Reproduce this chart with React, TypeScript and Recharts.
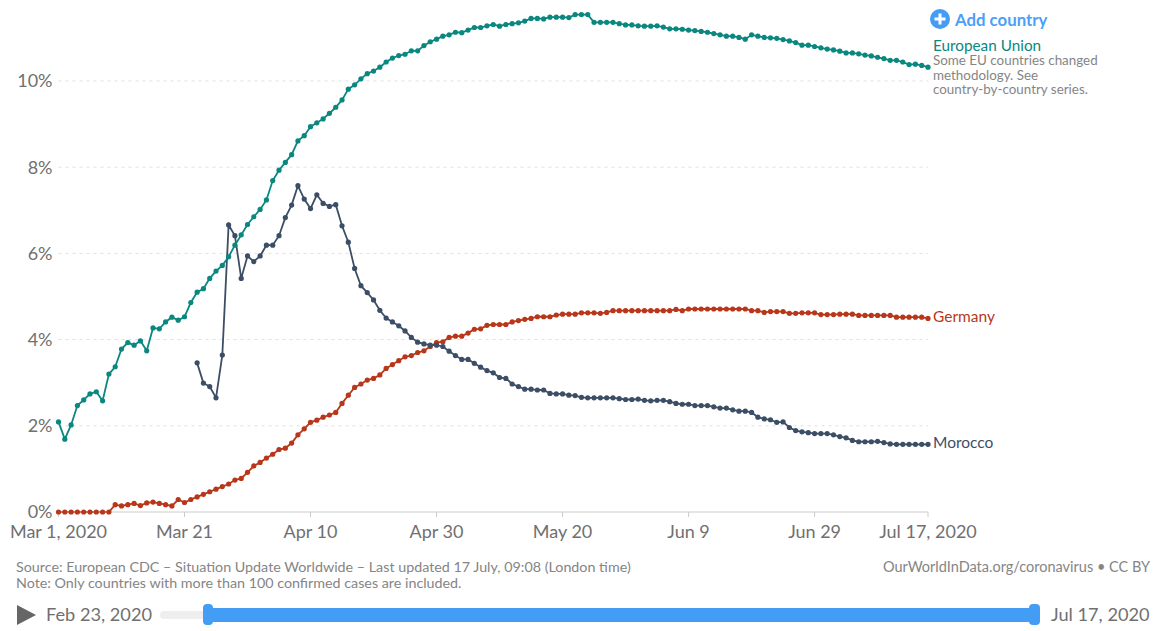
import { CartesianGrid, Line, LineChart, XAxis, YAxis } from "recharts";

const FONT = "Lato, sans-serif";
const GREY = "#707070";
const BLUE = "#449df5";
const TEAL = "#0a877f";
const RED = "#b8371a";
const SLATE = "#3c4e66";

const euValues = [
  2.09, 1.69, 2.02, 2.47, 2.6, 2.74, 2.79, 2.58, 3.2, 3.37, 3.78, 3.93, 3.87, 3.97, 3.74, 4.27, 4.25, 4.41, 4.52, 4.45,
  4.53, 4.86, 5.1, 5.18, 5.42, 5.59, 5.72, 5.92, 6.19, 6.43, 6.67, 6.85, 7.02, 7.24, 7.69, 7.93, 8.11, 8.29, 8.61, 8.73,
  8.94, 9.03, 9.12, 9.25, 9.39, 9.56, 9.81, 9.91, 10.05, 10.17, 10.23, 10.32, 10.44, 10.53, 10.59, 10.62, 10.7, 10.7, 10.82, 10.91,
  10.97, 11.04, 11.07, 11.13, 11.12, 11.18, 11.24, 11.24, 11.28, 11.31, 11.27, 11.31, 11.33, 11.35, 11.39, 11.45, 11.45, 11.44, 11.48, 11.48,
  11.48, 11.47, 11.54, 11.54, 11.54, 11.36, 11.36, 11.36, 11.36, 11.33, 11.3, 11.3, 11.28, 11.27, 11.27, 11.28, 11.25, 11.21, 11.21, 11.2,
  11.18, 11.17, 11.15, 11.13, 11.1, 11.07, 11.04, 11.04, 11.01, 10.97, 11.07, 11.04, 11.01, 11.0, 10.99, 10.96, 10.93, 10.89, 10.83, 10.83,
  10.8, 10.77, 10.74, 10.72, 10.69, 10.65, 10.65, 10.63, 10.6, 10.58, 10.55, 10.52, 10.48, 10.48, 10.44, 10.38, 10.39, 10.36, 10.32,
];

const germanyValues = [
  0, 0, 0, 0, 0, 0, 0, 0, 0, 0.17, 0.14, 0.17, 0.2, 0.15, 0.21, 0.23, 0.2, 0.17, 0.14, 0.29,
  0.22, 0.29, 0.35, 0.41, 0.47, 0.53, 0.59, 0.65, 0.74, 0.78, 0.92, 1.07, 1.15, 1.25, 1.34, 1.45, 1.48, 1.6, 1.79, 1.93,
  2.08, 2.13, 2.2, 2.25, 2.31, 2.52, 2.71, 2.89, 2.97, 3.06, 3.1, 3.18, 3.33, 3.42, 3.51, 3.6, 3.63, 3.7, 3.74, 3.84,
  3.93, 3.95, 4.05, 4.08, 4.08, 4.15, 4.24, 4.25, 4.33, 4.35, 4.35, 4.35, 4.41, 4.44, 4.47, 4.49, 4.53, 4.53, 4.53, 4.57,
  4.59, 4.59, 4.59, 4.62, 4.62, 4.62, 4.61, 4.63, 4.67, 4.67, 4.67, 4.67, 4.67, 4.67, 4.67, 4.67, 4.67, 4.67, 4.7, 4.67,
  4.71, 4.71, 4.71, 4.71, 4.71, 4.71, 4.71, 4.71, 4.71, 4.71, 4.67, 4.67, 4.63, 4.65, 4.65, 4.65, 4.61, 4.61, 4.62, 4.62,
  4.62, 4.58, 4.58, 4.58, 4.59, 4.59, 4.59, 4.56, 4.56, 4.56, 4.56, 4.56, 4.56, 4.52, 4.52, 4.52, 4.52, 4.52, 4.49,
];

const moroccoValues = [
  null, null, null, null, null, null, null, null, null, null, null, null, null, null, null, null, null, null, null, null,
  null, null, 3.46, 2.99, 2.91, 2.65, 3.64, 6.66, 6.41, 5.42, 5.94, 5.81, 5.94, 6.19, 6.19, 6.41, 6.83, 7.12, 7.57, 7.26,
  7.04, 7.36, 7.16, 7.09, 7.13, 6.64, 6.26, 5.65, 5.25, 5.09, 4.92, 4.68, 4.5, 4.41, 4.32, 4.2, 4.05, 3.94, 3.9, 3.87,
  3.87, 3.84, 3.73, 3.63, 3.54, 3.54, 3.45, 3.36, 3.28, 3.23, 3.12, 3.1, 2.97, 2.91, 2.85, 2.85, 2.83, 2.83, 2.75, 2.74,
  2.74, 2.71, 2.7, 2.66, 2.65, 2.65, 2.65, 2.65, 2.65, 2.63, 2.61, 2.61, 2.62, 2.59, 2.58, 2.59, 2.59, 2.56, 2.52, 2.5,
  2.5, 2.47, 2.47, 2.47, 2.44, 2.41, 2.41, 2.37, 2.34, 2.34, 2.31, 2.2, 2.16, 2.14, 2.08, 2.09, 1.96, 1.89, 1.86, 1.84,
  1.82, 1.82, 1.82, 1.79, 1.75, 1.72, 1.66, 1.63, 1.63, 1.63, 1.64, 1.61, 1.58, 1.57, 1.57, 1.57, 1.57, 1.57, 1.57,
];

const tickDays = [0, 20, 40, 60, 80, 100, 120, 138];
const tickLabels = ["Mar 1, 2020", "Mar 21", "Apr 10", "Apr 30", "May 20", "Jun 9", "Jun 29", "Jul 17, 2020"];
const percentTicks = [0, 2, 4, 6, 8, 10];
const gridValues = [2, 4, 6, 8, 10];

const chartData = euValues.map((eu, day) => ({
  day,
  eu,
  germany: germanyValues[day],
  morocco: moroccoValues[day],
}));

function endLabel(name: string, color: string) {
  return (props: any) =>
    props.index === euValues.length - 1 ? (
      <text x={props.x + 5} y={props.y + 4} fontFamily={FONT} fontSize={15.5} fill={color}>
        {name}
      </text>
    ) : null;
}

function Note({ style, children }: { style: React.CSSProperties; children: React.ReactNode }) {
  return (
    <div style={{ position: "absolute", fontFamily: FONT, whiteSpace: "nowrap", ...style }}>{children}</div>
  );
}

export default function App() {
  return (
    <div style={{ position: "absolute", left: 0, top: 0, width: 1156, height: 631, background: "#fff", overflow: "hidden" }}>
      <LineChart
        width={1156}
        height={631}
        data={chartData}
        margin={{ top: 12, right: 228, bottom: 89, left: 0 }}
      >
        <CartesianGrid vertical={false} horizontalValues={gridValues} stroke="#e0e0e0" strokeDasharray="3 4" />
        <XAxis
          dataKey="day"
          type="number"
          domain={[0, 138]}
          ticks={tickDays}
          tickFormatter={(d) => tickLabels[tickDays.indexOf(d)]}
          interval={0}
          height={30}
          tickSize={5}
          tickMargin={8}
          stroke="#cccccc"
          tick={{ fontSize: 18, fill: GREY, fontFamily: FONT }}
        />
        <YAxis
          width={58.5}
          domain={[0, 11.6]}
          ticks={percentTicks}
          tickFormatter={(v) => `${v}%`}
          axisLine={false}
          tickLine={false}
          tickMargin={0}
          tick={{ fontSize: 18, fill: GREY, fontFamily: FONT }}
        />
        <Line
          dataKey="germany"
          stroke={RED}
          strokeWidth={1.8}
          dot={{ r: 2.6, fill: RED, stroke: "none" }}
          label={endLabel("Germany", RED)}
          isAnimationActive={false}
        />
        <Line
          dataKey="morocco"
          stroke={SLATE}
          strokeWidth={1.8}
          dot={{ r: 2.6, fill: SLATE, stroke: "none" }}
          label={endLabel("Morocco", SLATE)}
          isAnimationActive={false}
        />
        <Line
          dataKey="eu"
          stroke={TEAL}
          strokeWidth={1.8}
          dot={{ r: 2.6, fill: TEAL, stroke: "none" }}
          isAnimationActive={false}
        />
      </LineChart>

      <svg style={{ position: "absolute", left: 930, top: 9 }} width={20} height={20}>
        <circle cx={10} cy={10} r={10} fill={BLUE} />
        <path d="M10 4.5v11M4.5 10h11" stroke="#fff" strokeWidth={3} />
      </svg>
      <Note style={{ left: 955, top: 9, fontSize: 16.8, fontWeight: 700, color: "#4c9ff8" }}>Add country</Note>
      <Note style={{ left: 933, top: 38, fontSize: 15.3, lineHeight: "15px", color: TEAL }}>European Union</Note>
      <Note style={{ left: 933, top: 53, fontSize: 13.4, lineHeight: "14.7px", color: "#858585" }}>
        Some EU countries changed
        <br />
        methodology. See
        <br />
        country-by-country series.
      </Note>

      <Note style={{ left: 16, top: 559, fontSize: 14.3, lineHeight: "15.5px", color: "#858585" }}>
        Source: European CDC – Situation Update Worldwide – Last updated 17 July, 09:08 (London time)
        <br />
        Note: Only countries with more than 100 confirmed cases are included.
      </Note>
      <Note style={{ right: 6, top: 559, fontSize: 14.5, lineHeight: "15.5px", color: "#858585" }}>
        OurWorldInData.org/coronavirus • CC BY
      </Note>

      <svg style={{ position: "absolute", left: 17, top: 604 }} width={20} height={22}>
        <path d="M0 1L19 11L0 21Z" fill="#666" />
      </svg>
      <Note style={{ left: 46, top: 603, fontSize: 18.2, color: GREY }}>Feb 23, 2020</Note>
      <div style={{ position: "absolute", left: 160, top: 611, width: 878, height: 8, borderRadius: 4, background: "#eeeeee" }} />
      <div style={{ position: "absolute", left: 206, top: 608, width: 828, height: 14, background: BLUE }} />
      <div style={{ position: "absolute", left: 203, top: 604, width: 10, height: 21, borderRadius: 4, background: BLUE }} />
      <div style={{ position: "absolute", left: 1029, top: 604, width: 11, height: 21, borderRadius: 4, background: BLUE }} />
      <Note style={{ left: 1051, top: 603, fontSize: 18.2, color: GREY }}>Jul 17, 2020</Note>
    </div>
  );
}
